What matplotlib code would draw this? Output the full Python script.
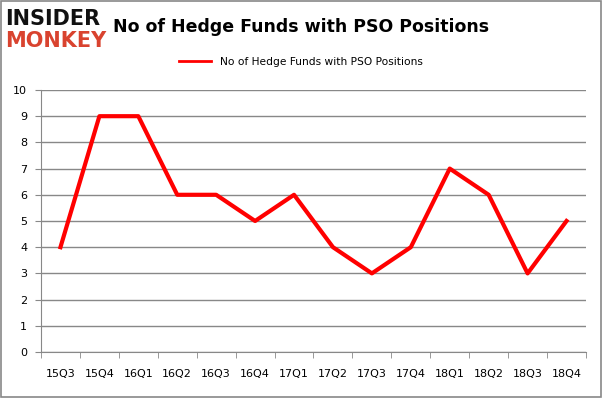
import matplotlib.pyplot as plt
from matplotlib.lines import Line2D

quarters = ["15Q3", "15Q4", "16Q1", "16Q2", "16Q3", "16Q4", "17Q1",
            "17Q2", "17Q3", "17Q4", "18Q1", "18Q2", "18Q3", "18Q4"]
funds = [4, 9, 9, 6, 6, 5, 6, 4, 3, 4, 7, 6, 3, 5]
series_name = "No of Hedge Funds with PSO Positions"

fig = plt.figure(figsize=(6.02, 3.98), dpi=100)
fig.patches.append(plt.Rectangle((0.002, 0.002), 0.996, 0.996, transform=fig.transFigure,
                                 fill=False, edgecolor="#888888", linewidth=1.2))

ax = fig.add_axes([0.0681, 0.1156, 0.9053, 0.6583])
x = list(range(len(quarters)))
ax.plot(x, funds, color="#ff0000", linewidth=3)

ax.set_xlim(-0.5, len(quarters) - 0.5)
ax.set_ylim(0, 10)
ax.set_yticks(range(0, 11))
ax.set_xticks(x)
ax.set_xticklabels(quarters)
ax.set_xticks([i - 0.5 for i in range(len(quarters) + 1)], minor=True)
ax.tick_params(axis="x", which="major", length=0, pad=12, labelsize=8)
ax.tick_params(axis="x", which="minor", length=4, color="#888888")
ax.tick_params(axis="y", length=4, color="#888888", labelsize=8, pad=6)
ax.grid(axis="y", color="#888888", linewidth=1)
ax.set_axisbelow(True)
for side in ["top", "right"]:
    ax.spines[side].set_visible(False)
for side in ["left", "bottom"]:
    ax.spines[side].set_color("#888888")

# logo
fig.text(0.008, 0.953, "INSIDER", fontsize=15, fontweight="bold", color="#111111",
         family="DejaVu Sans", va="center")
fig.text(0.008, 0.898, "MONKEY", fontsize=15, fontweight="bold", color="#d9432f",
         family="DejaVu Sans", va="center")

fig.text(0.5, 0.932, series_name, fontsize=12.5, fontweight="bold",
         ha="center", va="center")

handle = Line2D([0], [0], color="#ff0000", linewidth=2)
fig.legend([handle], [series_name], loc="center", bbox_to_anchor=(0.5, 0.845),
           frameon=False, fontsize=7.7, handlelength=3)

fig.savefig("out.png", dpi=100)
